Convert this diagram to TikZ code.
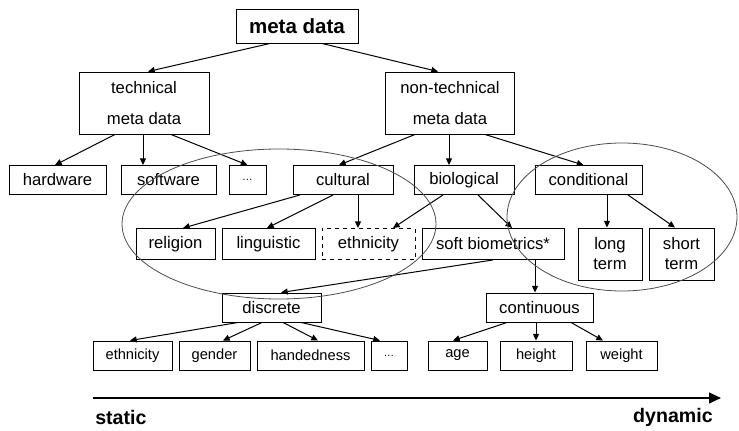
\documentclass[tikz,border=0pt]{standalone}
\usepackage{fontspec}
\setmainfont{Liberation Sans}
\usetikzlibrary{arrows.meta, calc}

\tikzset{
  box/.style={draw, line width=0.7pt, minimum height=21.75pt, inner sep=1pt,
    font=\fontsize{12.5}{15}\selectfont},
  leaf/.style={box, font=\fontsize{11}{13}\selectfont},
  link/.style={-{Triangle[length=5pt,width=4.5pt]}, line width=0.75pt},
  group/.style={draw=black!70, line width=0.6pt}
}

\begin{document}
\begin{tikzpicture}[x=0.75pt,y=-0.75pt]
\useasboundingbox (0,0) rectangle (739,431);
% Top of the tree
\node[box, minimum width=91.5pt, minimum height=25.5pt,
  font=\fontsize{15.4}{18}\selectfont\bfseries] (meta) at (297,26) {meta data};
\node[box, minimum width=97.5pt, minimum height=46.5pt, align=center] (tech) at (144,103) {technical\\[8pt]meta data};
\node[box, minimum width=96.75pt, minimum height=46.5pt, align=center] (nontech) at (450,103) {non-technical\\[8pt]meta data};
% Second level
\node[box, minimum width=72.75pt] (hardware) at (57.5,180) {hardware};
\node[box, minimum width=71.25pt] (software) at (168.5,180) {software};
\node[box, minimum width=27.75pt] (techmore) at (247.5,180) {\fontsize{8}{9}\selectfont\dots};
\node[box, minimum width=75pt] (cultural) at (343,180) {cultural};
\node[box, minimum width=75pt] (biological) at (464,180) {biological};
\node[box, minimum width=80.25pt] (conditional) at (588.5,180) {conditional};
% Third level
\node[box, minimum width=59.25pt, minimum height=23.25pt] (religion) at (175.5,244) {religion};
\node[box, minimum width=69.75pt, minimum height=23.25pt] (linguistic) at (268.5,244) {linguistic};
\node[box, dashed, minimum width=69.75pt, minimum height=23.25pt] (ethnic) at (368.5,244) {ethnicity};
\node[box, minimum width=106.5pt, minimum height=23.25pt] (soft) at (493,244) {soft biometrics*};
\node[box, minimum width=48pt, minimum height=39pt, align=center] (longterm) at (610,254) {long\\term};
\node[box, minimum width=48.75pt, minimum height=39pt, align=center] (shortterm) at (681.5,254) {short\\term};
% Soft biometric traits
\node[box, minimum width=74.25pt] (discrete) at (271.5,307.5) {discrete};
\node[box, minimum width=80.25pt] (continuous) at (539.5,307.5) {continuous};
\node[leaf, minimum width=59.25pt] (ethnicity) at (132.5,355.5) {ethnicity};
\node[leaf, minimum width=53.25pt] (gender) at (214.5,355.5) {gender};
\node[leaf, minimum width=80.25pt] (handedness) at (310.5,355.5) {handedness};
\node[leaf, minimum width=27pt] (softmore) at (389,355.5) {\fontsize{8}{9}\selectfont\dots};
\node[leaf, minimum width=44.25pt] (age) at (457.5,355.5) {age};
\node[leaf, minimum width=54pt] (height) at (536,355.5) {height};
\node[leaf, minimum width=53.25pt] (weight) at (621.5,355.5) {weight};
% Links from parent to child
\draw[link] ($(meta.south)+(-27,0)$) -- ($(tech.north)+(4,0)$);
\draw[link] ($(meta.south)+(25,0)$) -- ($(nontech.north)+(-12,0)$);
\draw[link] ($(tech.south)+(-29,0)$) -- ($(hardware.north)+(-2.5,0)$);
\draw[link] ($(tech.south)+(-1,0)$) -- ($(software.north)+(-25.5,0)$);
\draw[link] ($(tech.south)+(27,0)$) -- (techmore.north);
\draw[link] ($(nontech.south)+(-35,0)$) -- ($(cultural.north)+(-4,0)$);
\draw[link] ($(nontech.south)+(-1,0)$) -- ($(biological.north)+(-15,0)$);
\draw[link] ($(nontech.south)+(35,0)$) -- ($(conditional.north)+(-5,0)$);
\draw[link] ($(cultural.south)+(-43,0)$) -- ($(religion.north)+(7.5,0)$);
\draw[link] ($(cultural.south)+(-10,0)$) -- ($(linguistic.north)+(-1.5,0)$);
\draw[link] ($(cultural.south)+(15,0)$) -- ($(ethnic.north)+(-10.5,0)$);
\draw[link] ($(biological.south)+(-21,0)$) -- ($(ethnic.north)+(24.5,0)$);
\draw[link] ($(biological.south)+(14,0)$) -- ($(soft.north)+(19,0)$);
\draw[link] ($(conditional.south)+(18.5,0)$) -- ($(longterm.north)+(-3,0)$);
\draw[link] ($(conditional.south)+(39.5,0)$) -- ($(shortterm.north)+(-6.5,0)$);
\draw[link] (soft.south) -- ($(discrete.north)+(9.5,0)$);
\draw[link] ($(soft.south)+(42,0)$) -- ($(continuous.north)+(-4.5,0)$);
\draw[link] ($(discrete.south)+(-33.5,0)$) -- ($(ethnicity.north)+(-2.5,0)$);
\draw[link] ($(discrete.south)+(-9.5,0)$) -- ($(gender.north)+(8.5,0)$);
\draw[link] ($(discrete.south)+(11.5,0)$) -- ($(handedness.north)+(7.5,0)$);
\draw[link] ($(discrete.south)+(29.5,0)$) -- ($(softmore.north)+(-9,0)$);
\draw[link] ($(continuous.south)+(-32.5,0)$) -- ($(age.north)+(-4.5,0)$);
\draw[link] ($(continuous.south)+(-3.5,0)$) -- (height.north);
\draw[link] ($(continuous.south)+(31.5,0)$) -- ($(weight.north)+(-18.5,0)$);
% Groups round the traits
\draw[group] (279,224) ellipse [x radius=157, y radius=75];
\draw[group] (622,217) ellipse [x radius=115, y radius=74];
% Time axis
\coordinate (axisstart) at (93,398);
\coordinate (axisend) at (721,398);
\draw[line width=1.6pt, -{Triangle[length=9pt,width=8pt]}] (axisstart) -- (axisend);
\node[anchor=west, inner sep=0pt, font=\fontsize{14.7}{17}\selectfont\bfseries] (static) at (95,417) {static};
\node[anchor=east, inner sep=0pt, font=\fontsize{14.7}{17}\selectfont\bfseries] (dynamic) at (713,417) {dynamic};
\end{tikzpicture}
\end{document}
